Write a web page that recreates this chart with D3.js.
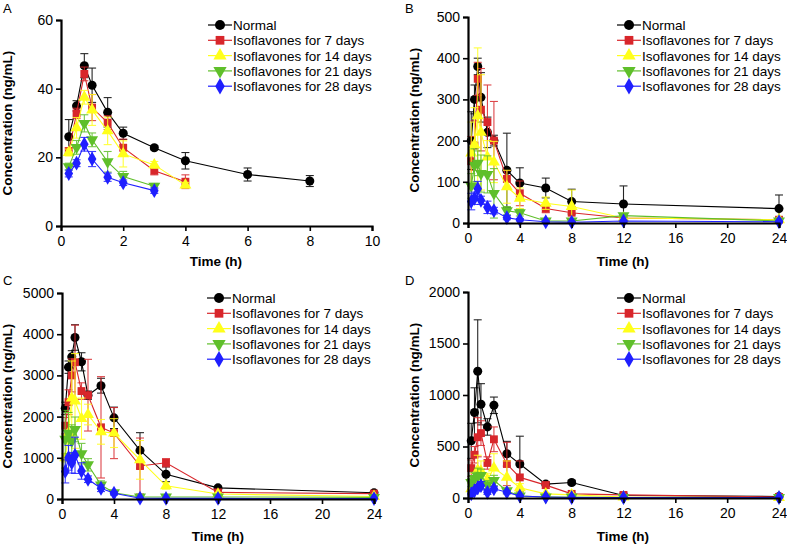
<!DOCTYPE html>
<html>
<head>
<meta charset='utf-8'>
<script src='https://d3js.org/d3.v7.min.js'></script>
<style>
    body { margin: 0; background: #fff; font-family: "Liberation Sans", Arial, sans-serif; }
    .tick text { font-size: 14px; font-family: "Liberation Sans", Arial, sans-serif; }
    .axis-title { font-size: 13.5px; font-weight: bold; }
    .legend text { font-size: 13.5px; }
</style>
</head>
<body>
<svg id='chart' width='787' height='545'></svg>
<script>
// ---- data ----
const seriesNames = ['Normal', 'Isoflavones for 7 days', 'Isoflavones for 14 days',
    'Isoflavones for 21 days', 'Isoflavones for 28 days'];
const panelLetters = ['A', 'B', 'C', 'D'];

const timesA = [0.25, 0.5, 0.75, 1, 1.5, 2, 3, 4, 6, 8];
const timesLong = [0.25, 0.5, 0.75, 1, 1.5, 2, 3, 4, 6, 8, 12, 24];

// panel A (values, sd)
const meanA = [
    [26, 35, 46.7, 41, 33.1, 27, 22.8, 19, 15, 13.1],
    [21.8, 32.8, 44.3, 34.5, 30.1, 22.8, 16.1, 12.9],
    [21.4, 28.6, 37.5, 33.8, 27.7, 21, 17.8, 11.9],
    [17.3, 22.9, 29.9, 25.1, 18.7, 14.4, 11.6],
    [15.3, 18.3, 23.8, 19.5, 14.2, 12.6, 10.3]
];
const sdA = [
    [5, 1.5, 3.5, 5, 4.3, 1.8, 0.6, 2.4, 1.9, 1.6],
    [1, 1.5, 2, 3.8, 2, 2.5, 1.2, 2],
    [1, 3, 2, 4.5, 4, 3.8, 1, 0.8],
    [1, 2, 2.5, 2, 3, 1.5, 0.8],
    [1, 1, 2, 2.2, 1.2, 0.8, 0.8]
];
// panel B
const meanB = [
    [200, 300, 380, 305, 220, 200, 128, 97, 85, 52, 46, 35],
    [150, 188, 350, 275, 245, 200, 107, 72, 35, 25, 12, 8],
    [170, 190, 260, 220, 160, 148, 88, 60, 48, 40, 12, 8],
    [90, 140, 145, 120, 118, 72, 30, 25, 5, 5, 18, 5],
    [52, 60, 83, 55, 38, 30, 13, 8, 3, 2, 5, 3]
];
const sdB = [
    [70, 35, 20, 60, 37, 13, 90, 37, 24, 30, 44, 33],
    [60, 60, 40, 100, 90, 95, 20, 30, 10, 15, 5, 3],
    [75, 90, 165, 140, 40, 50, 40, 25, 15, 40, 5, 3],
    [30, 40, 30, 45, 45, 60, 10, 8, 3, 3, 5, 3],
    [20, 15, 18, 10, 15, 8, 5, 3, 2, 2, 2, 2]
];
// panel C
const meanC = [
    [2200, 3200, 3450, 3920, 3330, 2520, 2750, 1970, 1180, 600, 270, 150],
    [1780, 2350, 3000, 3320, 2620, 2520, 1740, 1600, 800, 880, 160, 130],
    [1000, 1600, 2450, 2380, 1950, 2050, 1630, 1600, 950, 320, 120, 60],
    [1450, 1600, 1400, 1690, 1100, 830, 340, 150, 50, 50, 50, 40],
    [670, 1000, 880, 1060, 680, 480, 260, 140, 20, 15, 15, 10]
];
const sdC = [
    [150, 150, 150, 310, 220, 100, 180, 260, 430, 180, 40, 30],
    [200, 300, 400, 900, 200, 870, 1230, 620, 680, 100, 50, 30],
    [100, 500, 900, 1150, 500, 250, 300, 350, 470, 80, 30, 20],
    [700, 500, 400, 300, 250, 150, 100, 50, 20, 20, 20, 10],
    [280, 300, 250, 440, 200, 80, 80, 40, 10, 5, 5, 5]
];
// panel D
const meanD = [
    [555, 830, 1230, 910, 690, 900, 430, 330, 135, 150, 25, 15],
    [290, 420, 590, 630, 340, 570, 330, 200, 125, 40, 30, 10],
    [90, 160, 270, 260, 180, 290, 200, 100, 40, 30, 10, 5],
    [150, 190, 210, 220, 130, 170, 70, 20, 10, 10, 5, 5],
    [40, 70, 100, 120, 55, 90, 55, 20, 10, 5, 5, 5]
];
const sdD = [
    [170, 240, 500, 200, 80, 80, 120, 270, 20, 20, 10, 10],
    [80, 80, 190, 120, 60, 120, 210, 160, 30, 10, 5, 5],
    [50, 80, 145, 100, 60, 140, 160, 40, 10, 10, 5, 3],
    [40, 60, 80, 60, 40, 50, 20, 10, 5, 5, 3, 3],
    [20, 30, 30, 40, 20, 20, 15, 10, 5, 3, 3, 3]
];

const xTicksA = [0, 2, 4, 6, 8, 10];
const xTicksLong = [0, 4, 8, 12, 16, 20, 24];
const yTicksA = [0, 20, 40, 60];
const yTicksB = [0, 100, 200, 300, 400, 500];
const yTicksC = [0, 1000, 2000, 3000, 4000, 5000];
const yTicksD = [0, 500, 1000, 1500, 2000];

// ---- styles / layout ----
const colors = ['#000000', '#d8262b', '#ffff1a', '#5fbf2a', '#1f1fff'];
const symbols = [d3.symbolCircle, d3.symbolSquare, d3.symbolTriangle, d3.symbolTriangle, d3.symbolDiamond];
const symSize = [64, 62, 62, 62, 64];
const symRot = [0, 0, 0, 180, 0];

const panels = [
    { times: timesA, mean: meanA, sd: sdA, xt: xTicksA, yt: yTicksA, x0: 61, x1: 372, y0: 226, y1: 20,
      lx: 3, ly: 13, legX: 208, legY: 25, titleX: 216, titleY: 266, yTitleX: 12 },
    { times: timesLong, mean: meanB, sd: sdB, xt: xTicksLong, yt: yTicksB, x0: 468, x1: 779, y0: 223, y1: 17,
      lx: 405, ly: 13, legX: 617, legY: 25, titleX: 623, titleY: 266, yTitleX: 419 },
    { times: timesLong, mean: meanC, sd: sdC, xt: xTicksLong, yt: yTicksC, x0: 62, x1: 374, y0: 499, y1: 293,
      lx: 3, ly: 285, legX: 207, legY: 298, titleX: 218, titleY: 541, yTitleX: 12 },
    { times: timesLong, mean: meanD, sd: sdD, xt: xTicksLong, yt: yTicksD, x0: 468, x1: 779, y0: 498, y1: 292,
      lx: 405, ly: 285, legX: 617, legY: 298, titleX: 623, titleY: 541, yTitleX: 419 }
];

const svg = d3.select('#chart');

panels.forEach((p, pi) => {
    const g = svg.append('g');
    const xMax = p.xt[p.xt.length - 1];
    const yMax = p.yt[p.yt.length - 1];
    const x = d3.scaleLinear().domain([0, xMax]).range([p.x0, p.x1]);
    const y = d3.scaleLinear().domain([0, yMax]).range([p.y0, p.y1]);

    // panel letter
    g.append('text').attr('x', p.lx).attr('y', p.ly)
        .style('font-size', '13px').text(panelLetters[pi]);

    // series
    p.mean.forEach((vals, si) => {
        const pts = vals.map((v, i) => ({ t: p.times[i], v: v, sd: p.sd[si][i] }));
        const sg = g.append('g');
        // line
        sg.append('path').datum(pts)
            .attr('fill', 'none').attr('stroke', colors[si]).attr('stroke-width', 1.1)
            .attr('d', d3.line().x(d => x(d.t)).y(d => y(d.v)));
        // error bars
        const eb = sg.selectAll('.eb').data(pts).enter().append('g')
            .attr('stroke', colors[si]).attr('stroke-width', 1.1).attr('opacity', 0.85);
        eb.append('line')
            .attr('x1', d => x(d.t)).attr('x2', d => x(d.t))
            .attr('y1', d => y(Math.max(0, d.v - d.sd))).attr('y2', d => y(d.v + d.sd));
        eb.append('line')
            .attr('x1', d => x(d.t) - 4).attr('x2', d => x(d.t) + 4)
            .attr('y1', d => y(d.v + d.sd)).attr('y2', d => y(d.v + d.sd));
        eb.append('line')
            .attr('x1', d => x(d.t) - 4).attr('x2', d => x(d.t) + 4)
            .attr('y1', d => y(Math.max(0, d.v - d.sd))).attr('y2', d => y(Math.max(0, d.v - d.sd)));
        // markers
        sg.selectAll('.mk').data(pts).enter().append('path')
            .attr('d', d3.symbol().type(symbols[si]).size(symSize[si]))
            .attr('transform', d => `translate(${x(d.t)},${y(d.v)}) rotate(${symRot[si]})`)
            .attr('fill', colors[si]);
    });

    // axes
    const xa = g.append('g').attr('transform', `translate(0,${p.y0})`)
        .call(d3.axisBottom(x).tickValues(p.xt).tickSize(5).tickPadding(5).tickFormat(d3.format('d')));
    const ya = g.append('g').attr('transform', `translate(${p.x0},0)`)
        .call(d3.axisLeft(y).tickValues(p.yt).tickSize(5).tickPadding(3).tickFormat(d3.format('d')));
    [xa, ya].forEach(a => {
        a.select('.domain').attr('stroke-width', 2.2).attr('stroke', '#000');
        a.selectAll('.tick line').attr('stroke-width', 1.6);
        a.selectAll('.tick text').attr('fill', '#000');
    });

    g.append('text').attr('class', 'axis-title')
        .attr('x', p.titleX).attr('y', p.titleY).attr('text-anchor', 'middle').text('Time (h)');
    g.append('text').attr('class', 'axis-title')
        .attr('transform', `translate(${p.yTitleX},${(p.y0 + p.y1) / 2}) rotate(-90)`)
        .attr('text-anchor', 'middle').text('Concentration (ng/mL)');

    // legend
    const leg = g.append('g').attr('class', 'legend');
    seriesNames.forEach((name, si) => {
        const ly = p.legY + si * 15.3;
        leg.append('line').attr('x1', p.legX).attr('x2', p.legX + 24)
            .attr('y1', ly).attr('y2', ly).attr('stroke', colors[si]).attr('stroke-width', 1.2);
        leg.append('path')
            .attr('d', d3.symbol().type(symbols[si]).size(symSize[si] + 14))
            .attr('transform', `translate(${p.legX + 12},${ly}) rotate(${symRot[si]})`)
            .attr('fill', colors[si]);
        leg.append('text').attr('x', p.legX + 25).attr('y', ly + 5).text(name);
    });
});
</script>
</body>
</html>
